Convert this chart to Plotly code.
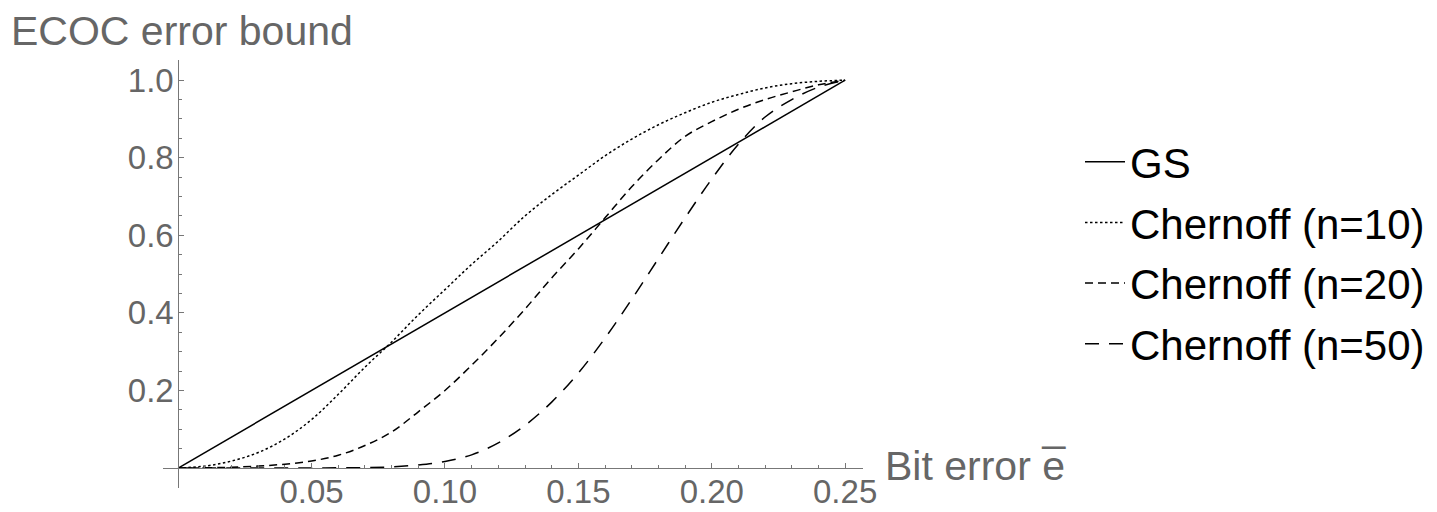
import plotly.graph_objects as go

# ---- data ----
bit_error = [0.00, 0.01, 0.02, 0.03, 0.04, 0.05, 0.06, 0.07, 0.08, 0.09,
             0.10, 0.11, 0.12, 0.13, 0.14, 0.15, 0.16, 0.17, 0.18, 0.19,
             0.20, 0.21, 0.22, 0.23, 0.24, 0.25]

gs_x = [0.0, 0.25]
gs_y = [0.0, 1.0]

chernoff_10 = [0.0, 0.005, 0.018, 0.040, 0.075, 0.125, 0.190, 0.260, 0.325, 0.395,
               0.460, 0.525, 0.585, 0.650, 0.705, 0.755, 0.805, 0.848, 0.885, 0.916,
               0.943, 0.963, 0.980, 0.991, 0.997, 1.0]

chernoff_20 = [0.0, 0.0005, 0.002, 0.005, 0.010, 0.018, 0.033, 0.058, 0.093, 0.145,
               0.200, 0.265, 0.335, 0.410, 0.490, 0.565, 0.645, 0.725, 0.795, 0.855,
               0.893, 0.925, 0.950, 0.970, 0.988, 1.0]

chernoff_50 = [0.0, 0.0, 0.0, 0.0, 0.0, 0.0, 0.0005, 0.001, 0.003, 0.008,
               0.017, 0.034, 0.065, 0.110, 0.170, 0.245, 0.335, 0.435, 0.540, 0.645,
               0.745, 0.835, 0.905, 0.950, 0.982, 1.0]

x_tick_vals = [0.05, 0.10, 0.15, 0.20, 0.25]
x_tick_text = ["0.05", "0.10", "0.15", "0.20", "0.25"]
x_minor_vals = [0.01, 0.02, 0.03, 0.04, 0.06, 0.07, 0.08, 0.09, 0.11, 0.12, 0.13, 0.14,
                0.16, 0.17, 0.18, 0.19, 0.21, 0.22, 0.23, 0.24]
y_tick_vals = [0.2, 0.4, 0.6, 0.8, 1.0]
y_tick_text = ["0.2", "0.4", "0.6", "0.8", "1.0"]
y_minor_vals = [0.05, 0.10, 0.15, 0.25, 0.30, 0.35, 0.45, 0.50, 0.55, 0.65, 0.70, 0.75,
                0.85, 0.90, 0.95]

series_names = ["GS", "Chernoff (n=10)", "Chernoff (n=20)", "Chernoff (n=50)"]

# ---- figure ----
FONT = "Liberation Sans, Arial, sans-serif"
GRAY = "#666666"
AXIS = "#777777"

fig = go.Figure()
fig.add_trace(go.Scatter(x=gs_x, y=gs_y, mode="lines", name=series_names[0],
                         line=dict(color="black", width=1.5), legendgroup="a"))
fig.add_trace(go.Scatter(x=bit_error, y=chernoff_10, mode="lines", name=series_names[1],
                         line=dict(color="black", width=1.5, dash="2.5px,2.5px", shape="spline"),
                         legendgroup="b"))
fig.add_trace(go.Scatter(x=bit_error, y=chernoff_20, mode="lines", name=series_names[2],
                         line=dict(color="black", width=1.5, dash="8px,5px", shape="spline"),
                         legendgroup="c"))
fig.add_trace(go.Scatter(x=bit_error, y=chernoff_50, mode="lines", name=series_names[3],
                         line=dict(color="black", width=1.5, dash="14px,10px", shape="spline"),
                         legendgroup="d"))

fig.update_layout(
    width=1437, height=512,
    margin=dict(l=155, r=582, t=52, b=32, autoexpand=False),
    paper_bgcolor="white", plot_bgcolor="white",
    font=dict(family=FONT, color=GRAY),
    showlegend=True,
    legend=dict(x=1.31, y=0.841, xanchor="left", yanchor="top",
                font=dict(family=FONT, size=42, color="black"),
                tracegroupgap=3, itemwidth=40, bgcolor="rgba(0,0,0,0)"),
    xaxis=dict(range=[-0.0057, 0.2567], domain=[0, 1], anchor="free", position=0.0467,
               automargin=False, ticklabelstandoff=-6,
               showgrid=False, zeroline=False, showline=True, linecolor=AXIS, linewidth=1,
               tickvals=x_tick_vals, ticktext=x_tick_text, ticks="inside", ticklen=5,
               tickcolor=AXIS, tickfont=dict(family=FONT, size=33, color=GRAY),
               minor=dict(tickvals=x_minor_vals, ticks="inside", ticklen=3, tickcolor=AXIS)),
    yaxis=dict(range=[-0.0515, 1.052], domain=[0, 1], anchor="free", position=0.0219,
               automargin=False, ticklabelstandoff=-2,
               showgrid=False, zeroline=False, showline=True, linecolor=AXIS, linewidth=1,
               tickvals=y_tick_vals, ticktext=y_tick_text, ticks="inside", ticklen=5,
               tickcolor=AXIS, tickfont=dict(family=FONT, size=33, color=GRAY),
               minor=dict(tickvals=y_minor_vals, ticks="inside", ticklen=3, tickcolor=AXIS)),
    annotations=[
        dict(text="ECOC error bound", xref="paper", yref="paper", x=-0.2200, y=1.0678,
             xanchor="left", yanchor="middle", showarrow=False,
             font=dict(family=FONT, size=41, color=GRAY)),
        dict(text="Bit error e\u0305", xref="paper", yref="paper", x=1.0286, y=0.0514,
             xanchor="left", yanchor="middle", showarrow=False,
             font=dict(family=FONT, size=41, color=GRAY)),
    ],
)

fig.write_html("out.html")
